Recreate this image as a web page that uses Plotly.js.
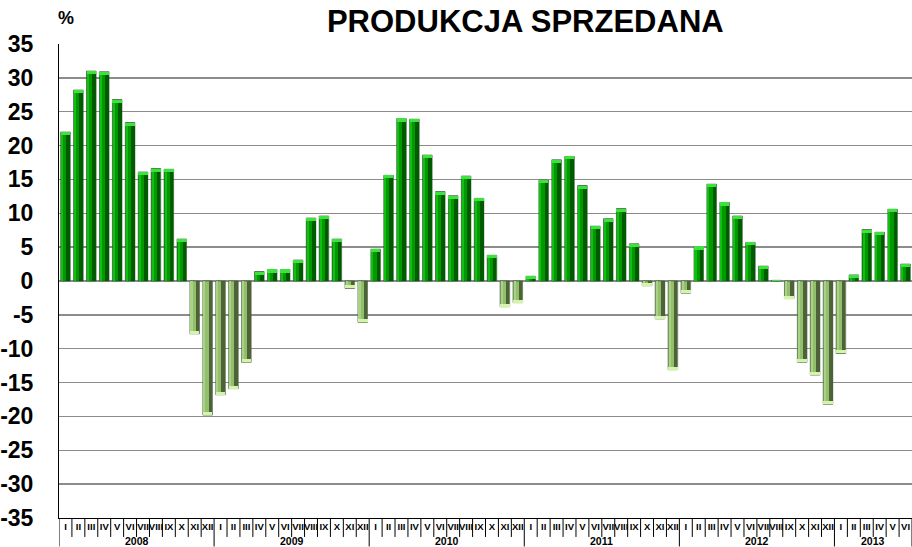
<!DOCTYPE html>
<html><head><meta charset="utf-8">
<script src="https://cdn.plot.ly/plotly-3.0.1.min.js"></script>
<style>html,body{margin:0;padding:0;background:#fff}#chart{width:912px;height:547px}</style>
</head><body><div id="chart"></div>
<script>
const years = ["2008","2009","2010","2011","2012","2013"];
const monthsPerYear = [12,12,12,12,12,6];
const monthNames = ["I","II","III","IV","V","VI","VII","VIII","IX","X","XI","XII"];
const v2008 = [22.0,28.2,31.0,30.9,26.8,23.4,16.1,16.6,16.5,6.2,-7.8,-19.8];
const v2009 = [-16.8,-15.9,-12.0,1.4,1.7,1.7,3.1,9.3,9.6,6.2,-1.1,-6.1];
const v2010 = [4.7,15.6,24.0,23.9,18.6,13.2,12.6,15.5,12.2,3.8,-3.8,-3.2];
const v2011 = [0.7,14.9,17.9,18.4,14.1,8.1,9.2,10.7,5.5,-0.7,-5.6,-13.1];
const v2012 = [-1.8,5.1,14.3,11.6,9.6,5.7,2.2,0.1,-2.6,-12.0,-13.9,-18.2];
const v2013 = [-10.7,0.9,7.6,7.2,10.6,2.5];
const yTicks = [35,30,25,20,15,10,5,0,-5,-10,-15,-20,-25,-30,-35];

const values = [].concat(v2008,v2009,v2010,v2011,v2012,v2013);
const labels = [];
years.forEach((y,i)=>{ for(let m=0;m<monthsPerYear[i];m++) labels.push(monthNames[m]); });
const xs = values.map((_,i)=>i);
const pos = values.map(v=>v>=0);

const body = pos.map(p=>p?'#009a00':'#93bf6c');
const left = pos.map(p=>p?'#10c010':'#a9d287');
const right = pos.map(p=>p?'#005a00':'#4d6236');
const cap = pos.map(p=>p?'#3ee23e':'#d4f5a8');
const capH = values.map(v=>Math.sign(v)*Math.min(Math.abs(v),0.45));
const capBase = values.map((v,i)=>v-capH[i]);

const traces = [
  {type:'bar',x:xs,y:values,width:0.74,offset:-0.37,marker:{color:body,line:{color:'#2e4a2e',width:0.6}},hoverinfo:'y'},
  {type:'bar',x:xs,y:values,width:0.16,offset:-0.33,marker:{color:left,line:{width:0}},hoverinfo:'skip'},
  {type:'bar',x:xs,y:values,width:0.28,offset:0.07,marker:{color:right,line:{width:0}},hoverinfo:'skip'},
  {type:'bar',x:xs,y:capH,base:capBase,width:0.74,offset:-0.37,marker:{color:cap,line:{width:0}},hoverinfo:'skip'}
];

const F = 'Liberation Sans, Arial, sans-serif';
const shapes = [];
const annotations = [];
let idx = 0;
years.forEach((y,i)=>{
  const n = monthsPerYear[i];
  annotations.push({x:idx+(n-1)/2,y:-35,xref:'x',yref:'y',yshift:-23,text:'<b>'+y+'</b>',showarrow:false,font:{family:F,size:10.5,color:'#000'}});
  shapes.push({type:'line',xref:'x',yref:'paper',x0:idx-0.5,x1:idx-0.5,y0:0,y1:-0.06,line:{color:'#000',width:1}});
  for(let m=1;m<n;m++){
    shapes.push({type:'line',xref:'x',yref:'paper',x0:idx+m-0.5,x1:idx+m-0.5,y0:0,y1:-0.04,line:{color:'#000',width:1}});
  }
  idx += n;
});
shapes.push({type:'line',xref:'x',yref:'paper',x0:idx-0.5,x1:idx-0.5,y0:0,y1:-0.06,line:{color:'#000',width:1}});

annotations.push({xref:'paper',yref:'paper',x:0.0,y:1,xanchor:'left',yanchor:'bottom',yshift:14,xshift:-3,text:'<b>%</b>',showarrow:false,font:{family:F,size:18,color:'#000'}});

const layout = {
  width:912,height:547,
  margin:{l:59,r:0,t:44,b:29},
  paper_bgcolor:'#fff',plot_bgcolor:'#fff',
  title:{text:'<b>PRODUKCJA SPRZEDANA</b>',x:0.576,xanchor:'center',y:0.982,yanchor:'top',font:{family:F,size:31,color:'#000'}},
  barmode:'overlay',bargap:0,
  showlegend:false,
  xaxis:{range:[-0.5,values.length-0.5],tickmode:'array',tickvals:xs,ticktext:labels.map(l=>'<b>'+l+'</b>'),ticks:'',tickangle:0,
    tickfont:{family:F,size:9.5,color:'#000'},showgrid:false,zeroline:false,
    showline:true,linecolor:'#000',linewidth:1,fixedrange:true,automargin:false},
  yaxis:{range:[-35,35],tickmode:'array',tickvals:yTicks,ticktext:yTicks.map(t=>'<b>'+t+'</b>'),
    tickfont:{family:F,size:23,color:'#000'},
    ticks:'',ticklabelstandoff:20,showgrid:true,gridcolor:'#8c8c8c',gridwidth:1.5,
    zeroline:false,showline:true,linecolor:'#000',linewidth:1,fixedrange:true,automargin:false},
  shapes:shapes,annotations:annotations
};
Plotly.newPlot('chart',traces,layout,{displayModeBar:false,staticPlot:true});
</script></body></html>
